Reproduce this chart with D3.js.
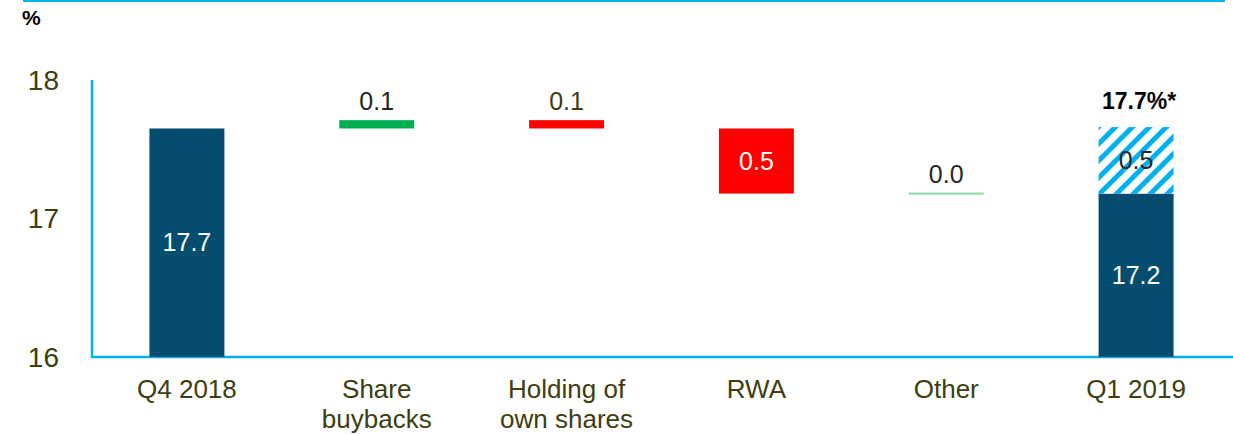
<!DOCTYPE html>
<html>
<head>
<meta charset="utf-8">
<script src="https://cdn.jsdelivr.net/npm/d3@7"></script>
<style>
  html, body { margin: 0; padding: 0; background: white; }
  text { font-family: Arial, 'Liberation Sans', sans-serif; }
</style>
</head>
<body>
<div id="chart"></div>
<script>
// categories and their (multi line) axis labels
const categories = ['Q4 2018', 'Share buybacks', 'Holding of own shares', 'RWA', 'Other', 'Q1 2019'];
const axisLabels = [['Q4 2018'], ['Share', 'buybacks'], ['Holding of', 'own shares'], ['RWA'], ['Other'], ['Q1 2019']];

// waterfall: where each bar starts and ends (in %)
const barStart = [16, 17.65, 17.71, 17.65, 17.18, 16];
const barEnd = [17.65, 17.71, 17.65, 17.18, 17.18, 17.18];
const barKind = ['total', 'up', 'down', 'down', 'zero', 'total'];
const valueLabels = ['17.7', '0.1', '0.1', '0.5', '0.0', '17.2'];

// hatched extra part on top of Q1 2019
const hatchStart = [17.18];
const hatchEnd = [17.66];
const hatchLabels = ['0.5'];
const totalNote = '17.7%*';

const yTicks = [16, 17, 18];

const WIDTH = 1233;
const HEIGHT = 434;
const TEXT = '#3d3d0f';
const BLUE = '#00b0f0';
const COLORS = { total: '#054d6e', up: '#00b050', down: '#ff0000', zero: '#86d8a8' };

const svg = d3.select('#chart')
  .append('svg')
  .attr('width', WIDTH)
  .attr('height', HEIGHT);

// pattern for the hatched bar
const pattern = svg.append('defs')
  .append('pattern')
  .attr('id', 'hatch')
  .attr('patternUnits', 'userSpaceOnUse')
  .attr('width', 12)
  .attr('height', 12)
  .attr('patternTransform', 'rotate(45)');
pattern.append('rect').attr('width', 12).attr('height', 12).attr('fill', 'white');
pattern.append('rect').attr('width', 5).attr('height', 12).attr('fill', BLUE);

// top line
svg.append('rect')
  .attr('x', 23).attr('y', 0)
  .attr('width', 1202).attr('height', 2)
  .attr('fill', BLUE);

svg.append('text')
  .attr('x', 22).attr('y', 25)
  .attr('font-size', 21)
  .attr('font-weight', 'bold')
  .attr('font-family', 'Lato, sans-serif')
  .text('%');

const xScale = d3.scaleBand()
  .domain(categories)
  .range([92, 1231])
  .paddingInner(0.605)
  .paddingOuter(0.3025);

const yScale = d3.scaleLinear().domain([16, 18]).range([357, 80]);

// axes
svg.append('line')
  .attr('x1', 92).attr('x2', 92)
  .attr('y1', yScale(18)).attr('y2', yScale(16) + 1)
  .attr('stroke', BLUE).attr('stroke-width', 2.5);
svg.append('line')
  .attr('x1', 91).attr('x2', WIDTH)
  .attr('y1', yScale(16)).attr('y2', yScale(16))
  .attr('stroke', BLUE).attr('stroke-width', 2.5);

svg.selectAll('.ytick')
  .data(yTicks)
  .enter()
  .append('text')
  .attr('x', 59)
  .attr('y', (d) => yScale(d))
  .attr('dy', '0.35em')
  .attr('text-anchor', 'end')
  .attr('font-size', 28)
  .attr('fill', TEXT)
  .text((d) => d);

// x labels
const xl = svg.selectAll('.xlabel')
  .data(categories)
  .enter()
  .append('text')
  .attr('text-anchor', 'middle')
  .attr('font-size', 26)
  .attr('fill', TEXT);
xl.selectAll('tspan')
  .data((d, i) => axisLabels[i].map((t) => ({ t, c: d })))
  .enter()
  .append('tspan')
  .attr('x', (d) => xScale(d.c) + xScale.bandwidth() / 2)
  .attr('y', (d, j) => 398 + j * 30)
  .text((d) => d.t);

// bars
svg.selectAll('.bar')
  .data(categories)
  .enter()
  .append('rect')
  .attr('x', (d) => xScale(d))
  .attr('width', xScale.bandwidth())
  .attr('y', (d, i) => barKind[i] === 'zero' ? yScale(barEnd[i]) - 1 : yScale(Math.max(barStart[i], barEnd[i])))
  .attr('height', (d, i) => barKind[i] === 'zero' ? 2 : Math.abs(yScale(barStart[i]) - yScale(barEnd[i])))
  .attr('fill', (d, i) => COLORS[barKind[i]]);

// hatched bar
svg.selectAll('.hatch')
  .data(hatchStart)
  .enter()
  .append('rect')
  .attr('x', xScale('Q1 2019'))
  .attr('width', xScale.bandwidth())
  .attr('y', (d, i) => yScale(hatchEnd[i]))
  .attr('height', (d, i) => yScale(d) - yScale(hatchEnd[i]))
  .attr('fill', 'url(#hatch)');

// value labels
const inside = (i) => barKind[i] === 'total' || (barKind[i] === 'down' && barStart[i] - barEnd[i] > 0.2);
svg.selectAll('.val')
  .data(categories)
  .enter()
  .append('text')
  .attr('x', (d) => xScale(d) + xScale.bandwidth() / 2)
  .attr('y', (d, i) => inside(i)
    ? (yScale(barStart[i]) + yScale(barEnd[i])) / 2
    : yScale(Math.max(barStart[i], barEnd[i])) - 19)
  .attr('dy', '0.35em')
  .attr('text-anchor', 'middle')
  .attr('font-size', 25)
  .attr('fill', (d, i) => inside(i) ? 'white' : (i === 2 ? TEXT : '#262626'))
  .text((d, i) => valueLabels[i]);

svg.selectAll('.hval')
  .data(hatchLabels)
  .enter()
  .append('text')
  .attr('x', xScale('Q1 2019') + xScale.bandwidth() / 2)
  .attr('y', (d, i) => (yScale(hatchStart[i]) + yScale(hatchEnd[i])) / 2)
  .attr('dy', '0.35em')
  .attr('text-anchor', 'middle')
  .attr('font-size', 25)
  .attr('fill', '#262626')
  .text((d) => d);

svg.append('text')
  .attr('x', xScale('Q1 2019') + xScale.bandwidth() / 2 + 3)
  .attr('y', 109)
  .attr('text-anchor', 'middle')
  .attr('font-size', 23)
  .attr('font-weight', 'bold')
  .attr('font-family', 'Lato, sans-serif')
  .text(totalNote);
</script>
</body>
</html>
